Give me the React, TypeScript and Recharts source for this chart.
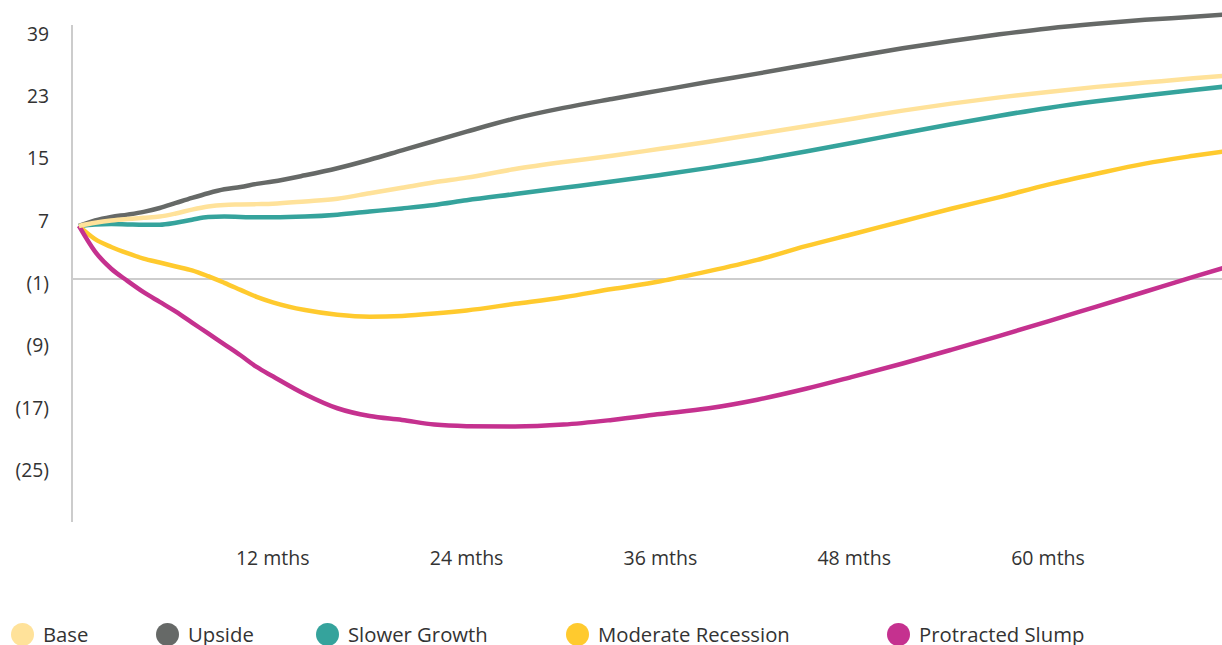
import { LineChart, Line, XAxis, YAxis, ReferenceLine, Legend } from "recharts"

// months since start
const months = [0, 1, 2, 3, 4, 5, 6, 7, 8, 9, 10, 11, 12, 14, 16, 18, 20, 22, 24, 27, 30, 33, 36, 39, 42, 45, 48, 51, 54, 57, 60, 63, 66, 69, 71]

const base = [6.8, 7.2, 7.5, 7.7, 7.85, 8.0, 8.4, 8.9, 9.3, 9.5, 9.55, 9.6, 9.65, 9.95, 10.3, 11.0, 11.7, 12.4, 13.0, 14.1, 15.0, 15.8, 16.7, 17.6, 18.6, 19.6, 20.6, 21.6, 22.5, 23.3, 24.0, 24.65, 25.2, 25.75, 26.1]
const upside = [6.8, 7.5, 7.95, 8.25, 8.6, 9.1, 9.75, 10.4, 11.0, 11.5, 11.8, 12.2, 12.5, 13.3, 14.2, 15.3, 16.5, 17.7, 18.9, 20.6, 21.95, 23.1, 24.2, 25.3, 26.35, 27.45, 28.55, 29.6, 30.55, 31.4, 32.15, 32.75, 33.25, 33.65, 33.95]
const slowerGrowth = [6.8, 7.0, 7.05, 7.0, 6.95, 6.95, 7.2, 7.6, 7.95, 8.0, 7.95, 7.9, 7.9, 8.0, 8.25, 8.65, 9.05, 9.5, 10.1, 10.9, 11.7, 12.5, 13.35, 14.25, 15.25, 16.35, 17.5, 18.7, 19.85, 20.95, 21.95, 22.8, 23.55, 24.25, 24.7]
const moderateRecession = [6.8, 5.1, 4.1, 3.3, 2.6, 2.1, 1.6, 1.1, 0.35, -0.5, -1.4, -2.3, -3.0, -4.0, -4.6, -4.85, -4.75, -4.45, -4.05, -3.2, -2.35, -1.3, -0.3, 1.0, 2.45, 4.2, 5.8, 7.4, 9.0, 10.5, 12.1, 13.5, 14.8, 15.8, 16.4]
const protractedSlump = [6.8, 3.5, 1.3, -0.25, -1.7, -2.95, -4.2, -5.6, -7.0, -8.4, -9.8, -11.3, -12.5, -14.8, -16.6, -17.6, -18.1, -18.7, -18.9, -18.95, -18.7, -18.1, -17.35, -16.6, -15.5, -14.1, -12.5, -10.85, -9.1, -7.3, -5.45, -3.55, -1.65, 0.25, 1.5]

const yTicks = [-25, -17, -9, -1, 7, 15, 23, 31]
const yTickLabels = ["(25)", "(17)", "(9)", "(1)", "7", "15", "23", "39"]
const xTicks = [12, 24, 36, 48, 60]

const series = [
  { key: "base", name: "Base", color: "#FFE29A" },
  { key: "upside", name: "Upside", color: "#666967" },
  { key: "slower", name: "Slower Growth", color: "#35A39C" },
  { key: "moderate", name: "Moderate Recession", color: "#FFCA2E" },
  { key: "slump", name: "Protracted Slump", color: "#C5318F" },
]

// draw order: light base line last so it sits on top at the start
const drawOrder = ["upside", "slower", "moderate", "slump", "base"]

const legendLeft = [11, 156, 316, 566, 887]

const data = months.map((m, i) => ({
  month: m,
  base: base[i],
  upside: upside[i],
  slower: slowerGrowth[i],
  moderate: moderateRecession[i],
  slump: protractedSlump[i],
}))

const FONT = "'Open Sans', 'Noto Sans', sans-serif"

const YTick = ({ x, y, payload }: any) => (
  <text x={x} y={y - 3.5} dy="0.355em" textAnchor="end" fill="#333" fontSize={19.3} fontFamily={FONT}>
    {yTickLabels[yTicks.indexOf(payload.value)]}
  </text>
)

const XTick = ({ x, y, payload }: any) => (
  <text x={x} y={y} dy="0.71em" textAnchor="middle" fill="#333" fontSize={19.5} fontFamily={FONT}>
    {`${payload.value} mths`}
  </text>
)

const renderLegend = () => (
  <div style={{ position: "relative", height: 63, width: 1222 }}>
    {series.map((s, i) => (
      <div
        key={s.key}
        style={{
          position: "absolute",
          left: legendLeft[i],
          top: 41,
          display: "flex",
          alignItems: "center",
          height: 23,
          whiteSpace: "nowrap",
        }}
      >
        <div style={{ width: 23, height: 23, borderRadius: "50%", backgroundColor: s.color }} />
        <span style={{ marginLeft: 9, fontSize: 20.3, fontFamily: FONT, color: "#333", lineHeight: "23px" }}>
          {s.name}
        </span>
      </div>
    ))}
  </div>
)

export default function App() {
  const colorOf = (k: string) => series.find((s) => s.key === k)!.color
  return (
    <div style={{ position: "absolute", left: 0, top: 0, width: 1222, height: 645, overflow: "hidden", background: "#fff" }}>
      <LineChart width={1222} height={645} data={data} margin={{ top: 0, right: 0, bottom: 0, left: 0 }}>
        <XAxis
          dataKey="month"
          type="number"
          domain={[-0.43, 70.77]}
          allowDataOverflow
          ticks={xTicks}
          axisLine={false}
          tickLine={false}
          tickSize={0}
          tickMargin={29}
          height={60}
          tick={<XTick />}
        />
        <YAxis
          type="number"
          domain={[-31.2, 35.8]}
          allowDataOverflow
          ticks={yTicks}
          axisLine={false}
          tickLine={false}
          tickSize={0}
          tickMargin={23}
          width={72}
          tick={<YTick />}
        />
        <ReferenceLine y={0} stroke="#bdbdbd" strokeWidth={1.5} />
        <ReferenceLine
          segment={[{ x: -0.43, y: -31.2 }, { x: -0.43, y: 32.6 }]}
          stroke="#cccccc"
          strokeWidth={2}
        />
        {drawOrder.map((k) => (
          <Line
            key={k}
            type="monotone"
            dataKey={k}
            stroke={colorOf(k)}
            strokeWidth={4.5}
            dot={false}
            activeDot={false}
            isAnimationActive={false}
          />
        ))}
        <Legend verticalAlign="bottom" content={renderLegend} />
      </LineChart>
    </div>
  )
}
